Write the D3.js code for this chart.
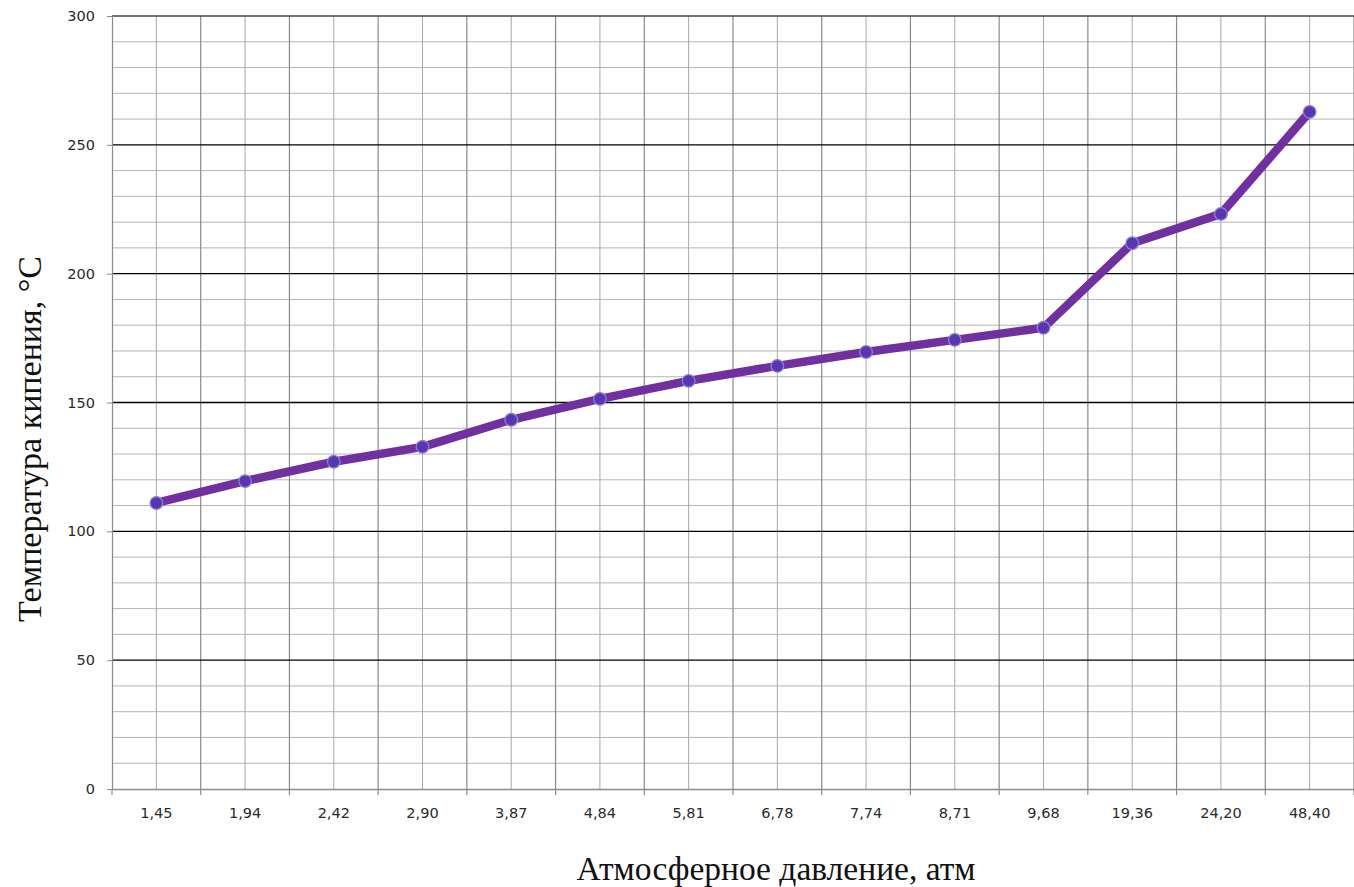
<!DOCTYPE html>
<html>
<head>
<meta charset="utf-8">
<script src="https://cdn.jsdelivr.net/npm/d3@7"></script>
<style>
  html, body { margin: 0; padding: 0; background: #fff; }
  svg { display: block; }
</style>
</head>
<body>
<svg id="chart" width="1354" height="887"></svg>
<script>
const categories = ["1,45", "1,94", "2,42", "2,90", "3,87", "4,84", "5,81", "6,78", "7,74", "8,71", "9,68", "19,36", "24,20", "48,40"];
const temperatures = [111, 119.5, 127, 132.8, 143.3, 151.4, 158.4, 164.2, 169.6, 174.3, 179, 211.8, 223.2, 262.8];
const yTicks = [0, 50, 100, 150, 200, 250, 300];
const yMinorTicks = d3.range(0, 301, 10);
const xTitle = "Атмосферное давление, атм";
const yTitle = "Температура кипения, °С";

(function () {
const svg = d3.select("#chart");
const mLeft = 112, mRight = 1354, mTop = 16, mBottom = 789;

const x = d3.scaleBand().domain(categories).range([mLeft, mRight]).padding(0);
const y = d3.scaleLinear().domain([0, 300]).range([mBottom, mTop]);
const cx = c => x(c) + x.bandwidth() / 2;

const grid = svg.append("g");
grid.selectAll(".hmin").data(yMinorTicks.filter(v => v % 50 !== 0)).enter().append("line")
  .attr("x1", mLeft).attr("x2", mRight)
  .attr("y1", d => y(d)).attr("y2", d => y(d))
  .attr("stroke", "#b4b4b4").attr("stroke-width", 1);
grid.selectAll(".vc").data(categories).enter().append("line")
  .attr("x1", d => cx(d)).attr("x2", d => cx(d))
  .attr("y1", mTop).attr("y2", mBottom)
  .attr("stroke", "#a8a8a8").attr("stroke-width", 1);
grid.selectAll(".vb").data(categories).enter().append("line")
  .attr("x1", d => x(d) + x.bandwidth()).attr("x2", d => x(d) + x.bandwidth())
  .attr("y1", mTop).attr("y2", mBottom)
  .attr("stroke", "#8a8a8a").attr("stroke-width", 1.2);
grid.selectAll(".hmaj").data(yTicks.filter(v => v !== 0)).enter().append("line")
  .attr("x1", mLeft).attr("x2", mRight)
  .attr("y1", d => y(d)).attr("y2", d => y(d))
  .attr("stroke", d => d === 300 ? "#444" : "#000").attr("stroke-width", 1.3);

const tickFont = "DejaVu Sans, Verdana, sans-serif";
const yAxis = d3.axisLeft(y).tickValues(yTicks).tickSize(5).tickPadding(12).tickFormat(d3.format("d"));
const gy = svg.append("g").attr("transform", `translate(${mLeft},0)`).call(yAxis);
gy.select(".domain").attr("stroke", "#8a8a8a").attr("stroke-width", 1.2);
gy.selectAll(".tick line").attr("stroke", "#8a8a8a");
gy.selectAll("text").attr("font-family", tickFont).attr("font-size", 14.5).attr("fill", "#2a2a2a");

const xAxis = d3.axisBottom(x).tickSize(0).tickPadding(19);
const gx = svg.append("g").attr("transform", `translate(0,${mBottom})`).call(xAxis);
gx.select(".domain").attr("stroke", "#8a8a8a").attr("stroke-width", 1.5);
gx.selectAll("text").attr("font-family", tickFont).attr("font-size", 14.5).attr("fill", "#2a2a2a");
svg.append("g").selectAll("line").data(d3.range(categories.length + 1)).enter().append("line")
  .attr("x1", i => mLeft + i * x.bandwidth()).attr("x2", i => mLeft + i * x.bandwidth())
  .attr("y1", mBottom).attr("y2", mBottom + 6)
  .attr("stroke", "#8a8a8a").attr("stroke-width", 1.2);

const line = d3.line().x((d, i) => cx(categories[i])).y(d => y(d));
svg.append("path").datum(temperatures)
  .attr("d", line)
  .attr("fill", "none")
  .attr("stroke", "#7030a0")
  .attr("stroke-width", 8.5)
  .attr("stroke-linejoin", "round");

svg.append("g").selectAll("circle").data(temperatures).enter().append("circle")
  .attr("cx", (d, i) => cx(categories[i]))
  .attr("cy", d => y(d))
  .attr("r", 6.3)
  .attr("fill", "#5836b0")
  .attr("stroke", "#8a80d8")
  .attr("stroke-width", 1.3);

svg.append("text")
  .attr("x", 776).attr("y", 880)
  .attr("text-anchor", "middle")
  .attr("font-family", "Liberation Serif, Times New Roman, serif")
  .attr("font-size", 33.5)
  .attr("fill", "#111")
  .text(xTitle);

svg.append("text")
  .attr("transform", "translate(41,439) rotate(-90)")
  .attr("text-anchor", "middle")
  .attr("font-family", "Liberation Serif, Times New Roman, serif")
  .attr("font-size", 34)
  .attr("fill", "#111")
  .text(yTitle);
})();
</script>
</body>
</html>
